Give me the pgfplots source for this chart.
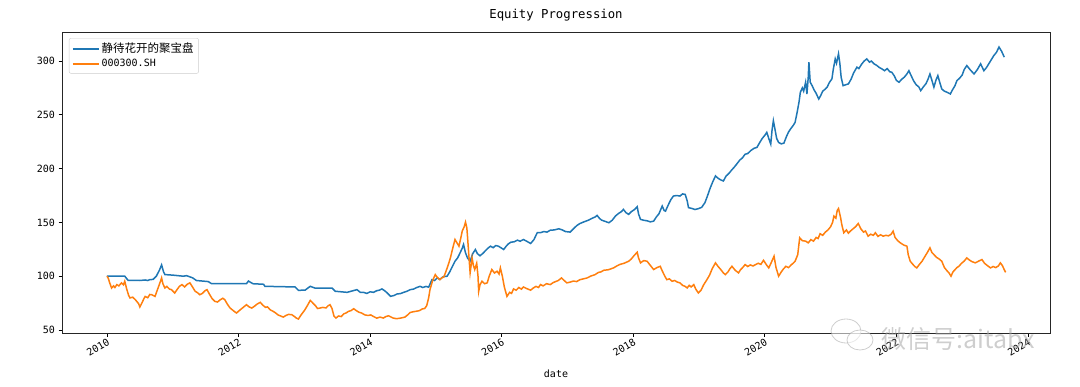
\documentclass[border=0pt]{standalone}
\usepackage{pgfplots}
\pgfplotsset{compat=1.18}
\usepackage{fontspec}
\setmainfont{DejaVu Sans Mono}
\newfontfamily\cjk{Noto Sans CJK SC}
\definecolor{tabblue}{HTML}{1F77B4}
\definecolor{taborange}{HTML}{FF7F0E}
\begin{document}
\begin{tikzpicture}[x=1pt,y=1pt]
\useasboundingbox (-62,-53) rectangle (1018,333);
\begin{axis}[
  scale only axis, width=988pt, height=301pt,
  at={(0,0)}, anchor=south west,
  xmin=2009.316, xmax=2024.335, ymin=47.2, ymax=327,
  xtick={2010,2012,2014,2016,2018,2020,2022,2024},
  xticklabels={2010,2012,2014,2016,2018,2020,2022,2024},
  ytick={50,100,150,200,250,300},
  /pgf/number format/assume math mode=true,
  tick label style={font=\fontsize{10}{11}\selectfont},
  xticklabel style={rotate=30, anchor=north east, inner sep=1pt},
  tick align=outside, xtick pos=bottom, ytick pos=left,
  major tick length=3.5pt,
  every tick/.style={black, line width=0.8pt},
  axis line style={line width=0.8pt, black!85},
  title={Equity Progression},
  title style={at={(axis description cs:0.5,1)}, anchor=center, yshift=11pt, font=\fontsize{12.3}{14}\selectfont},
  xlabel={date},
  xlabel style={at={(axis description cs:0.5,0)}, anchor=center, yshift=-41pt, font=\fontsize{10}{12}\selectfont},
  legend style={at={(axis description cs:0.007,0.98)}, anchor=north west, draw=black!20, rounded corners=2pt,
    font=\fontsize{10}{12}\selectfont, row sep=1pt, inner xsep=3pt, inner ysep=3pt},
  legend cell align=left,
  legend image code/.code={\draw[#1, line width=1.5pt] (0pt,0pt) -- (26pt,0pt);},
]
\addplot[tabblue, line width=1.5pt] table {
2010.00 100
2010.27 100
2010.32 96.2
2010.50 96
2010.58 96.5
2010.62 96
2010.65 96.8
2010.70 97
2010.75 100
2010.80 106
2010.83 110.5
2010.86 104
2010.88 101.5
2011.00 101
2011.16 100
2011.21 100.5
2011.30 98.5
2011.36 96
2011.54 95
2011.59 93
2012.12 93
2012.15 95.5
2012.19 94
2012.22 93
2012.38 92.5
2012.40 90.6
2012.86 90
2012.91 86.9
2013.01 87
2013.09 90.6
2013.16 89
2013.42 89
2013.47 86
2013.65 85
2013.80 87.5
2013.85 85
2013.90 85
2013.95 84
2014.00 85.5
2014.05 85
2014.10 86.5
2014.14 87
2014.18 88.2
2014.22 86.5
2014.25 85
2014.31 81.3
2014.36 82
2014.41 83.5
2014.46 83.8
2014.51 85
2014.56 86
2014.61 87.5
2014.66 88
2014.71 89.5
2014.76 90.6
2014.80 89.5
2014.85 90.5
2014.89 89.8
2014.92 94
2014.94 96.8
2014.98 96
2015.02 98.4
2015.06 97
2015.11 99.5
2015.17 100
2015.21 104
2015.25 109
2015.29 113.9
2015.33 117
2015.37 122
2015.40 126
2015.42 129.5
2015.45 121.7
2015.48 117
2015.52 113.9
2015.56 121
2015.60 124.8
2015.63 121
2015.67 119
2015.71 121
2015.75 123.5
2015.79 126
2015.83 127.9
2015.87 126.5
2015.91 128.5
2015.95 127.9
2016.00 126
2016.03 124.8
2016.07 128
2016.10 130
2016.14 131.6
2016.19 132
2016.24 133.5
2016.28 132.5
2016.33 134.1
2016.38 132.5
2016.44 130.4
2016.49 134
2016.54 140.4
2016.59 140.5
2016.64 141.5
2016.69 141
2016.74 142.8
2016.80 143
2016.87 144.1
2016.92 143
2016.97 141.5
2017.04 141
2017.09 144
2017.14 147
2017.19 149
2017.25 150.5
2017.32 152.1
2017.38 154
2017.42 155
2017.45 156.5
2017.49 153.5
2017.52 152.1
2017.57 151
2017.63 149.7
2017.68 152
2017.73 156
2017.78 158.5
2017.82 160
2017.85 162.1
2017.89 159
2017.93 157.5
2017.97 160
2018.02 162
2018.06 164.6
2018.08 158
2018.11 152.8
2018.16 152
2018.21 151.5
2018.26 150.5
2018.31 151.2
2018.35 155
2018.39 158
2018.44 165.2
2018.47 161
2018.49 160.5
2018.53 166
2018.57 171
2018.61 174.5
2018.66 175
2018.71 174.5
2018.75 176.5
2018.79 176
2018.82 170
2018.84 163.7
2018.89 163
2018.94 162
2018.99 162.8
2019.04 164
2019.09 168.4
2019.13 175
2019.17 182
2019.21 188
2019.25 193.2
2019.29 191
2019.33 189.5
2019.37 188.5
2019.41 193
2019.46 196
2019.50 199
2019.53 201
2019.57 204
2019.62 208
2019.66 210
2019.70 213.4
2019.74 214
2019.79 217
2019.84 219
2019.88 219.7
2019.92 224
2019.96 228
2020.00 231
2020.03 233.7
2020.06 228
2020.09 222.8
2020.11 236
2020.13 244.5
2020.15 238
2020.18 228
2020.21 224.3
2020.25 223
2020.29 223.7
2020.33 230
2020.36 234
2020.39 236.8
2020.43 240
2020.46 243
2020.49 252
2020.52 262
2020.54 271
2020.57 275
2020.59 272
2020.62 280.3
2020.64 269.4
2020.66 285
2020.67 299
2020.69 280.3
2020.72 277
2020.75 273
2020.78 270
2020.82 264.7
2020.85 268
2020.88 272
2020.92 274
2020.95 276
2020.98 280
2021.02 283.4
2021.04 292
2021.07 302
2021.09 298
2021.12 306.7
2021.14 298
2021.16 285
2021.19 277.1
2021.23 278
2021.27 278.7
2021.31 283
2021.35 289
2021.40 294.3
2021.43 293
2021.47 297
2021.51 300
2021.55 302
2021.59 299
2021.62 300
2021.66 297.4
2021.70 296
2021.74 294
2021.78 292.7
2021.82 291
2021.86 293
2021.90 290
2021.93 289.6
2021.97 286
2022.00 282
2022.04 280.3
2022.08 283
2022.12 285
2022.16 288
2022.19 291
2022.22 287
2022.26 281.8
2022.30 278
2022.34 276
2022.37 272.5
2022.41 276
2022.45 279
2022.48 283
2022.51 288
2022.54 282
2022.57 275.7
2022.60 282
2022.63 286.5
2022.66 280
2022.69 274
2022.73 272
2022.77 271
2022.82 269.4
2022.85 273
2022.89 277
2022.92 281.8
2022.96 284
2023.00 287
2023.03 292
2023.07 295.8
2023.12 292
2023.18 288
2023.23 292
2023.28 297.4
2023.33 291
2023.37 294
2023.42 299
2023.48 305
2023.52 308
2023.56 313
2023.60 309
2023.64 303.6
};
\addlegendentry{{\cjk\fontsize{11.5}{12}\selectfont 静待花开的聚宝盘}}
\addplot[taborange, line width=1.5pt] table {
2010.00 100
2010.02 98
2010.04 94
2010.07 89
2010.10 91
2010.12 89.5
2010.15 92.2
2010.18 91
2010.22 93.8
2010.25 92
2010.27 95.3
2010.30 88
2010.33 82
2010.35 79.8
2010.39 80.5
2010.43 78.2
2010.46 76
2010.48 74.5
2010.50 71.4
2010.53 75
2010.56 79
2010.58 81.2
2010.62 80
2010.65 83
2010.68 82.8
2010.73 81.2
2010.77 88
2010.80 93
2010.83 98.4
2010.85 93
2010.88 89
2010.91 90.5
2010.95 88
2010.98 87.5
2011.03 84.4
2011.07 88
2011.10 90.5
2011.14 92.2
2011.18 90
2011.22 92.5
2011.26 93.8
2011.30 90
2011.34 86
2011.38 84.5
2011.41 82.8
2011.45 84
2011.49 86.5
2011.52 87.5
2011.56 83
2011.60 79
2011.64 76.6
2011.68 76
2011.72 78
2011.76 79.5
2011.79 78.2
2011.83 74
2011.87 70.5
2011.91 68.5
2011.94 67
2011.97 65.8
2012.01 68
2012.05 70
2012.09 72
2012.12 73.5
2012.16 71.5
2012.20 70.4
2012.24 72
2012.28 74
2012.33 75.7
2012.37 73
2012.41 71
2012.44 71.5
2012.48 68.8
2012.52 67.5
2012.56 66
2012.60 64
2012.64 63
2012.68 62
2012.72 63.5
2012.76 64.5
2012.81 64.2
2012.85 62.5
2012.88 61
2012.91 60.2
2012.95 64
2013.00 68
2013.04 72
2013.09 77.5
2013.13 75
2013.17 72.5
2013.20 70
2013.24 70.4
2013.28 71
2013.33 70.5
2013.36 72.5
2013.39 73.5
2013.42 70
2013.45 63
2013.48 61.1
2013.52 63
2013.56 62.5
2013.60 65
2013.64 66
2013.67 67.3
2013.71 68
2013.75 69.8
2013.79 68
2013.83 66.5
2013.87 65.8
2013.92 64
2013.97 63.5
2014.01 64
2014.05 62.6
2014.10 61
2014.15 62
2014.20 61.1
2014.24 62.5
2014.28 63.2
2014.35 61.1
2014.40 60.5
2014.46 61
2014.53 62
2014.57 64
2014.61 66.3
2014.66 67
2014.71 67.5
2014.75 68
2014.79 69.5
2014.83 70
2014.86 72.6
2014.89 80
2014.91 87.5
2014.95 96
2014.99 101.5
2015.02 99
2015.06 96.8
2015.09 98.5
2015.12 99.3
2015.15 104
2015.19 111
2015.22 117
2015.26 127
2015.29 134.1
2015.32 131
2015.35 127.9
2015.38 136
2015.40 141.9
2015.43 146
2015.45 150.3
2015.47 145
2015.48 137.2
2015.50 120
2015.52 103.1
2015.55 117
2015.57 110
2015.59 106.2
2015.62 112
2015.64 100
2015.65 85.9
2015.67 92
2015.70 95.3
2015.74 93
2015.78 93.8
2015.81 100
2015.85 106.2
2015.89 103
2015.93 104.6
2015.96 102
2015.98 107.7
2016.01 100
2016.04 90
2016.08 81.2
2016.12 85
2016.15 84
2016.18 88.2
2016.22 87
2016.26 89.5
2016.30 88
2016.33 90
2016.38 88.5
2016.44 87
2016.48 89
2016.52 90.5
2016.56 89.5
2016.59 92.2
2016.63 91
2016.68 93
2016.74 92.2
2016.78 94
2016.82 95
2016.86 96
2016.91 98.4
2016.95 96
2016.99 93.8
2017.04 94.5
2017.09 95.5
2017.14 95
2017.19 96.8
2017.24 97.5
2017.30 98.4
2017.35 100
2017.42 101.5
2017.47 103.5
2017.51 104
2017.55 105.5
2017.62 106
2017.70 107.7
2017.75 109.5
2017.80 111
2017.86 112
2017.93 113.9
2017.97 116
2018.01 119
2018.06 122.3
2018.08 117
2018.11 112.4
2018.16 114.5
2018.21 113.9
2018.26 110
2018.31 106.2
2018.36 108
2018.41 109.2
2018.44 105
2018.48 100
2018.51 96.8
2018.55 97.5
2018.59 95.3
2018.63 96
2018.67 94.5
2018.71 93.8
2018.75 91.5
2018.79 90.5
2018.82 89.1
2018.85 91.5
2018.88 90
2018.92 92.2
2018.95 88
2018.99 84.4
2019.03 87
2019.07 92
2019.12 96.8
2019.16 101
2019.20 107
2019.25 112.4
2019.29 109
2019.33 106.2
2019.37 103
2019.40 101.5
2019.44 104
2019.47 107
2019.50 109.2
2019.55 105.5
2019.60 103.1
2019.63 106
2019.67 108.5
2019.70 110.8
2019.74 109
2019.78 110.5
2019.82 109.5
2019.86 110.8
2019.90 112
2019.94 111
2019.98 114.8
2020.02 111
2020.06 107.7
2020.10 113
2020.14 118.6
2020.17 108
2020.21 100
2020.25 104
2020.28 106.5
2020.32 109.2
2020.36 108
2020.40 110.5
2020.43 112
2020.46 113.9
2020.50 120
2020.53 135.7
2020.57 133
2020.62 132.6
2020.66 131
2020.70 134
2020.74 132.6
2020.78 136
2020.81 135
2020.84 139.5
2020.88 138
2020.92 141
2020.96 143
2021.00 146
2021.03 150
2021.05 155.9
2021.08 154
2021.10 161
2021.12 162.9
2021.15 155
2021.17 148
2021.20 140.4
2021.24 143
2021.27 140
2021.30 141.9
2021.34 144
2021.38 146
2021.42 149
2021.46 144
2021.50 141
2021.53 142
2021.57 137.2
2021.61 139
2021.65 138
2021.68 140.4
2021.72 137
2021.76 138.5
2021.80 137.2
2021.84 138
2021.88 137.5
2021.92 139
2021.95 141.9
2021.98 136
2022.02 133
2022.06 131
2022.11 129
2022.16 127.9
2022.18 120
2022.21 113.9
2022.25 111
2022.28 109
2022.31 107.7
2022.35 111
2022.39 113.9
2022.43 118
2022.47 122
2022.51 126.4
2022.54 122
2022.57 120.1
2022.61 117.5
2022.65 116
2022.69 113.9
2022.73 108
2022.77 105
2022.80 103
2022.83 100
2022.86 104
2022.89 106
2022.92 108
2022.95 109.2
2022.99 112
2023.03 114
2023.07 117
2023.11 115
2023.15 113.5
2023.20 112.4
2023.25 114
2023.30 115.5
2023.34 112
2023.38 110
2023.43 107.7
2023.47 109
2023.51 108
2023.55 109.5
2023.58 112.4
2023.61 110
2023.64 106
2023.66 103.6
};
\addlegendentry{000300.SH}
\end{axis}
% watermark
\begin{scope}[opacity=0.55]
\draw[gray!70, fill=white, line width=0.8pt] (784,2) ellipse (15pt and 12pt);
\draw[gray!70, fill=white, line width=0.8pt] (798,-7) ellipse (13pt and 10pt);
\node[text=gray!70, font=\cjk\fontsize{25}{26}\selectfont, anchor=west] at (816,-6) {微信号:aitabx};
\end{scope}
\end{tikzpicture}
\end{document}
